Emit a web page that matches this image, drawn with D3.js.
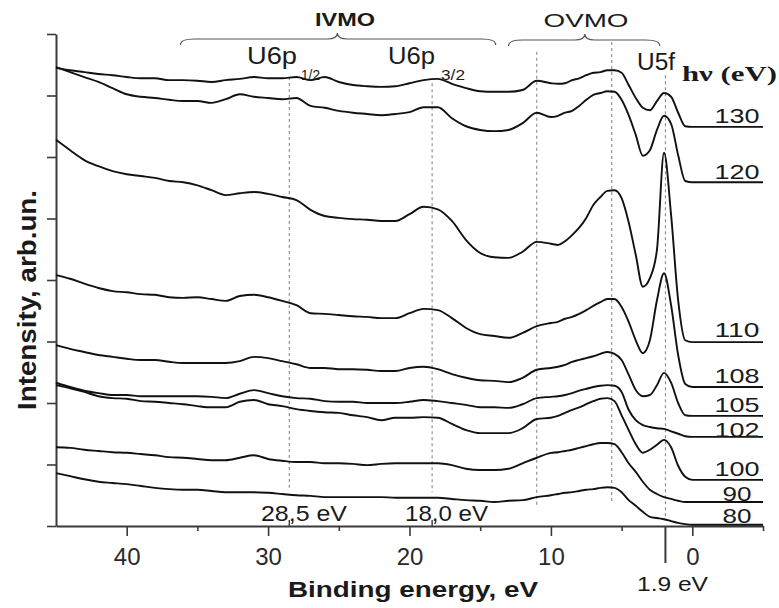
<!DOCTYPE html>
<html>
<head>
<meta charset="utf-8">
<script src="https://cdn.jsdelivr.net/npm/d3@7"></script>
<style>
  body { margin: 0; background: #fff; }
  svg { display: block; }
</style>
</head>
<body>
<div id="chart"></div>
<script>
// binding energy grid (eV), shared by all spectra
const energies = [45,44,43,42,41,40,39,38,37,36,35,34,33,32,31,30,29,28,27,26,25,24,23,22,21,20,19,18,17,16,15,14,13,12,11,10,
  9.5,9,8.5,8,7.5,7,6.5,6,5.5,5,4.5,4,3.5,3,2.5,2,1.5,1,0.5,0,-0.5,-5];

// intensity (arb. units, offset spectra)
const hv130 = [74.5,74.1,73.8,73.5,73.3,73.0,72.8,72.8,72.5,72.5,72.4,72.2,72.5,72.7,73.0,72.8,72.8,73.0,72.5,73.0,72.2,71.7,71.5,71.4,71.5,72.0,72.5,72.7,71.9,71.2,70.7,70.6,70.6,70.9,72.4,72.0,
  71.9,72.0,72.5,72.8,73.3,73.7,73.8,74.1,74.1,73.7,71.7,69.6,68.0,67.6,69.1,70.4,69.8,67.2,65.0,64.9,64.9,64.9];
const hv120 = [74.6,73.8,73.0,72.2,71.2,70.2,69.8,69.6,69.3,69.1,69.1,68.8,69.4,70.2,69.8,69.6,69.4,69.6,68.3,68.0,67.5,67.2,67.0,66.8,67.0,67.3,68.1,68.1,66.3,65.0,64.4,64.2,64.4,65.5,67.2,66.5,
  66.7,67.2,67.5,68.3,69.3,70.1,70.4,70.7,70.6,69.3,66.8,63.6,60.2,61.1,64.4,66.7,65.4,60.3,56.1,55.9,55.9,55.9];
const hv110 = [62.8,61.1,59.5,58.5,57.7,57.2,56.9,56.6,56.1,55.9,55.4,54.6,53.8,54.1,54.3,54.0,53.5,53.0,51.4,50.4,50.1,49.9,49.8,49.6,49.6,50.7,51.9,51.5,49.6,46.5,44.4,43.7,43.6,44.6,46.2,45.9,
  45.7,46.3,47.3,48.5,50.1,52.2,53.5,54.5,54.6,53.3,49.4,44.1,38.9,40.3,44.9,60.7,50.6,36.7,30.2,29.9,29.9,29.9];
const hv108 = [40.8,40.2,39.4,38.7,38.2,38.0,37.7,37.6,37.2,37.1,37.2,36.9,36.6,37.4,37.6,37.2,36.6,35.9,34.6,34.5,34.3,34.1,34.0,33.8,33.8,34.6,35.3,35.1,33.8,32.2,31.2,30.9,30.6,31.4,32.5,33.0,
  33.2,33.7,34.0,34.5,35.1,35.8,36.4,36.9,36.9,35.6,33.2,30.2,28.1,30.2,36.7,41.1,35.9,27.8,23.1,22.6,22.6,22.6];
const hv105 = [29.4,28.8,28.3,27.8,27.5,27.2,27.0,27.0,26.7,26.5,26.5,26.5,26.5,26.8,27.5,27.3,26.8,26.3,25.7,25.7,25.5,25.5,25.4,25.2,25.2,25.7,25.9,25.5,24.7,24.1,23.7,23.6,23.4,24.1,25.4,25.7,
  25.9,26.2,26.7,27.0,27.3,27.6,28.0,28.3,28.0,27.0,24.6,22.1,21.1,21.3,22.9,24.9,23.3,20.0,18.0,17.9,17.9,17.9];
const hv102 = [23.3,22.6,22.0,21.6,21.3,21.3,21.1,21.1,21.1,21.1,21.1,21.0,20.8,21.5,22.1,21.6,21.1,20.8,20.7,20.3,20.2,20.2,20.0,20.0,20.0,20.2,20.5,20.3,20.0,19.7,19.3,19.3,19.2,19.8,20.8,21.0,
  21.1,21.3,21.6,22.0,22.3,22.6,22.8,22.9,22.8,21.8,18.9,17.2,16.4,16.1,15.9,15.8,15.4,15.0,14.6,14.5,14.5,14.5];
const hv100 = [22.9,22.4,21.8,21.1,20.8,20.7,20.3,20.2,20.0,19.8,19.5,19.3,19.3,20.2,20.5,19.8,19.5,19.0,18.7,18.5,18.4,18.0,17.7,17.2,17.6,17.6,17.7,17.6,16.6,15.6,15.1,15.1,15.1,15.9,17.4,17.6,
  17.9,18.4,18.9,19.3,19.8,20.3,20.7,20.8,20.3,18.0,15.6,13.3,11.9,12.4,13.2,14.0,12.8,9.8,8.0,7.5,7.5,7.5];
const hv90 = [12.8,12.7,12.4,12.2,12.0,11.9,11.7,11.5,11.2,11.1,10.9,10.7,10.7,11.1,11.5,10.9,10.6,10.4,10.4,10.2,10.2,10.1,9.9,10.1,10.2,10.2,10.2,10.2,9.9,9.3,9.1,9.1,9.3,10.2,11.1,11.9,
  12.0,12.2,12.4,12.7,13.0,13.3,13.5,13.5,13.3,12.0,10.2,8.8,7.2,5.9,5.2,4.7,4.4,4.1,3.9,3.9,3.9,3.9];
const hv80 = [8.6,8.1,7.6,7.2,7.0,6.8,6.5,6.2,6.0,5.9,5.9,5.7,5.5,5.5,5.5,5.4,5.2,5.0,4.9,4.7,4.7,4.7,4.7,4.7,4.6,4.6,4.6,4.6,4.4,4.2,4.1,3.9,4.1,4.2,4.7,5.0,
  5.2,5.4,5.5,5.7,5.9,6.0,6.2,6.3,6.2,5.5,4.2,3.3,2.3,1.5,1.3,1.1,0.8,0.5,0.3,0.2,0.2,0.2];

const photonLabels = ["130","120","110","108","105","102","100","90","80"];
const spectra = [hv130, hv120, hv110, hv108, hv105, hv102, hv100, hv90, hv80];

// dashed guide lines (eV) and their vertical extent (intensity units)
const markerEnergies = [28.5, 18.4, 11.0, 5.7, 1.9];
const markerTop = [73.0, 72.0, 77.1, 78.7, 73.3];
const markerBottom = [6.2, 5.5, 3.4, 3.7, 1.0];

const majorTicks = [40, 30, 20, 10, 0];
const minorTicks = [35, 25, 15, 5, -5];
const yTicks = [0, 10, 20, 30, 40, 50, 60, 70, 80];

const W = 779, H = 608;
const svg = d3.select("#chart").append("svg")
    .attr("width", W)
    .attr("height", H)
    .style("background", "#fff");

const x = d3.scaleLinear().domain([45, -5]).range([56, 763]);
const y = d3.scaleLinear().domain([0, 80]).range([526, 34]);

const sans = "'Liberation Sans', Arial, sans-serif";
const axisColor = "#3a3a3a";

// text helper: stretch glyphs to the measured width
function label(g, opt) {
    const t = g.append("text")
        .attr("x", opt.x)
        .attr("y", opt.y)
        .attr("font-family", opt.family || sans)
        .attr("font-size", opt.size)
        .attr("font-weight", opt.weight || "normal")
        .attr("fill", opt.fill || "#1a1a1a")
        .attr("text-anchor", opt.anchor || "start")
        .text(opt.text);
    if (opt.length) t.attr("textLength", opt.length).attr("lengthAdjust", "spacingAndGlyphs");
    return t;
}

// ----- dashed guide lines -----
svg.append("g").selectAll("line")
    .data(markerEnergies)
    .enter().append("line")
    .attr("x1", d => x(d)).attr("x2", d => x(d))
    .attr("y1", (d, i) => y(markerTop[i]))
    .attr("y2", (d, i) => y(markerBottom[i]))
    .attr("stroke", "#8a8a8a")
    .attr("stroke-width", 1.1)
    .attr("stroke-dasharray", "3,3");

// ----- axes -----
const xAxis = svg.append("g")
    .attr("transform", "translate(0," + y(0) + ")")
    .call(d3.axisBottom(x).tickValues(majorTicks).tickSize(10).tickSizeOuter(0).tickFormat(d3.format("d")));
xAxis.select(".domain").attr("stroke", axisColor).attr("stroke-width", 2);
xAxis.selectAll(".tick line").attr("stroke", axisColor).attr("stroke-width", 1.6);
xAxis.selectAll(".tick text")
    .attr("font-family", sans).attr("font-size", 24).attr("fill", "#2a2a2a")
    .attr("dy", null).attr("y", 39);

svg.append("g")
    .attr("transform", "translate(0," + y(0) + ")")
    .call(d3.axisBottom(x).tickValues(minorTicks).tickSize(5).tickSizeOuter(0).tickFormat(""))
    .call(g => g.select(".domain").remove())
    .selectAll(".tick line").attr("stroke", axisColor).attr("stroke-width", 1.6);

const yAxis = svg.append("g")
    .attr("transform", "translate(" + x(45) + ",0)")
    .call(d3.axisLeft(y).tickValues(yTicks).tickSize(9).tickSizeOuter(0).tickFormat(""));
yAxis.select(".domain").attr("stroke", axisColor).attr("stroke-width", 2);
yAxis.selectAll(".tick line").attr("stroke", axisColor).attr("stroke-width", 1.6);

// marker ticks on the energy axis
svg.append("g").selectAll("line")
    .data([28.5, 18.4])
    .enter().append("line")
    .attr("x1", d => x(d)).attr("x2", d => x(d))
    .attr("y1", y(0)).attr("y2", y(0) - 6)
    .attr("stroke", axisColor).attr("stroke-width", 1.4);
svg.append("line")
    .attr("x1", x(1.9)).attr("x2", x(1.9))
    .attr("y1", y(0)).attr("y2", y(0) + 37)
    .attr("stroke", axisColor).attr("stroke-width", 2);

// ----- spectra -----
const line = d3.line()
    .x((d, i) => x(energies[i]))
    .y(d => y(d))
    .curve(d3.curveMonotoneX);

svg.append("g").selectAll("path")
    .data(spectra)
    .enter().append("path")
    .attr("d", line)
    .attr("fill", "none")
    .attr("stroke", "#111")
    .attr("stroke-width", 1.9)
    .attr("stroke-linejoin", "round");

// photon energy labels sitting on the flat tails
const labelLift = { "130": 4, "120": 3, "110": 5, "108": 4, "105": 4, "102": 0, "100": 4, "90": 1, "80": 2 };
const lbl = svg.append("g");
spectra.forEach((s, i) => {
    const name = photonLabels[i];
    label(lbl, {
        x: 737, y: y(s[s.length - 1]) - labelLift[name],
        text: name, size: 21, anchor: "middle",
        length: name.length === 3 ? 45 : 29
    });
});

// ----- annotations -----
const ann = svg.append("g");

function brace(x1, x2, xm, y0) {
    const p = d3.path();
    p.moveTo(x1, y0 + 6);
    p.quadraticCurveTo(x1, y0, x1 + 14, y0);
    p.lineTo(xm - 10, y0);
    p.quadraticCurveTo(xm, y0, xm, y0 - 6);
    p.quadraticCurveTo(xm, y0, xm + 10, y0);
    p.lineTo(x2 - 14, y0);
    p.quadraticCurveTo(x2, y0, x2, y0 + 6);
    ann.append("path")
        .attr("d", p.toString())
        .attr("fill", "none")
        .attr("stroke", "#555")
        .attr("stroke-width", 1.2);
}
brace(x(36.2), x(13.9), x(25.1), 39);
brace(x(13.0), x(2.3), x(7.6), 40);

label(ann, { x: 345, y: 26, text: "IVMO", size: 19, weight: "bold", anchor: "middle", length: 60 });
label(ann, { x: 586, y: 27, text: "OVMO", size: 19, anchor: "middle", length: 85 });

label(ann, { x: 247, y: 64, text: "U6p", size: 23, length: 50 });
label(ann, { x: 301, y: 80, text: "1/2", size: 15, length: 19 });
label(ann, { x: 388, y: 64, text: "U6p", size: 23, length: 47 });
label(ann, { x: 441, y: 80, text: "3/2", size: 15, length: 24 });
label(ann, { x: 637, y: 70, text: "U5f", size: 23, length: 38 });
label(ann, { x: 682, y: 81, text: "h\u03bd (eV)", size: 21, weight: "bold", family: "'Liberation Serif', 'Times New Roman', serif", length: 95 });

label(ann, { x: 261, y: 521, text: "28,5 eV", size: 22, length: 86 });
label(ann, { x: 405, y: 521, text: "18,0 eV", size: 22, length: 83 });
label(ann, { x: 637, y: 591, text: "1.9 eV", size: 21, length: 71 });

// axis titles
label(ann, { x: 288, y: 597, text: "Binding energy, eV", size: 22, weight: "bold", length: 250 });
ann.append("g")
    .attr("transform", "translate(36,300) rotate(-90) scale(1,1.2)")
    .append("text")
    .attr("text-anchor", "middle")
    .attr("font-family", sans)
    .attr("font-size", 22)
    .attr("font-weight", "bold")
    .attr("fill", "#1a1a1a")
    .attr("textLength", 220)
    .attr("lengthAdjust", "spacingAndGlyphs")
    .text("Intensity, arb.un.");
</script>
</body>
</html>
